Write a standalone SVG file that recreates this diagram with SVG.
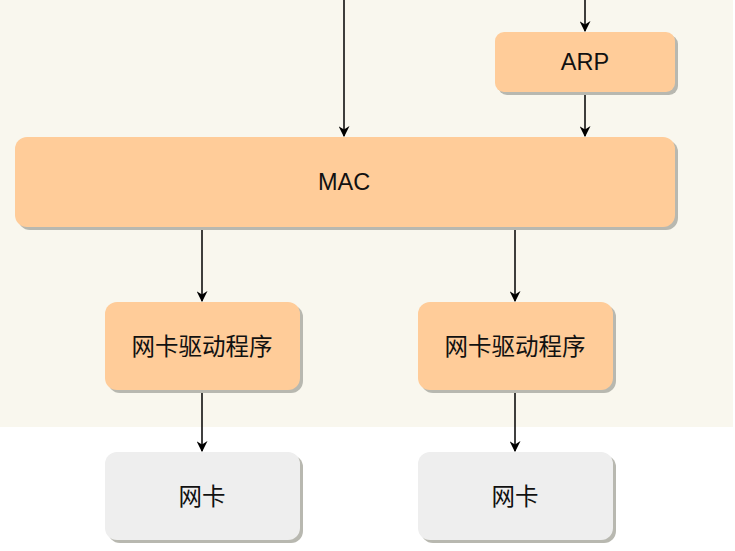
<svg xmlns="http://www.w3.org/2000/svg" width="735" height="551" viewBox="0 0 735 551">
<defs>
<style>
.box{stroke:none}
.o{fill:#ffcc99}
.g{fill:#eeeeee}
.sh{fill:#b8b8b0}
.t{font-family:"Liberation Sans","Noto Sans CJK SC",sans-serif;font-size:23.5px;fill:#111;text-anchor:middle;dominant-baseline:central}
.c{stroke:#000;stroke-width:1.5;fill:none;marker-end:url(#ah)}
</style>
<marker id="ah" viewBox="0 0 10 10" refX="9" refY="5" markerWidth="11" markerHeight="11" markerUnits="userSpaceOnUse" orient="auto">
<path d="M0,0 L10,5 L0,10 L3,5 Z" fill="#000"/>
</marker>
</defs>
<rect x="0" y="0" width="735" height="551" fill="#ffffff"/>
<rect x="0" y="0" width="733" height="427" fill="#f9f7ee"/>
<g id="connectors">
<line class="c" x1="344" y1="0" x2="344" y2="136"/>
<line class="c" x1="585" y1="0" x2="585" y2="31"/>
<line class="c" x1="585" y1="92" x2="585" y2="136"/>
<line class="c" x1="202" y1="227" x2="202" y2="301"/>
<line class="c" x1="515" y1="227" x2="515" y2="301"/>
<line class="c" x1="202" y1="390" x2="202" y2="451"/>
<line class="c" x1="515" y1="390" x2="515" y2="451"/>
</g>
<g id="arp">
<rect class="sh" x="498" y="35" width="180" height="60" rx="9"/>
<rect class="box o" x="495" y="32" width="180" height="60" rx="9"/>
<text class="t" x="585" y="62">ARP</text>
</g>
<g id="mac">
<rect class="sh" x="18" y="140" width="660" height="90" rx="12"/>
<rect class="box o" x="15" y="137" width="660" height="90" rx="12"/>
<text class="t" x="344" y="182">MAC</text>
</g>
<g id="driver1">
<rect class="sh" x="108" y="305" width="195" height="88" rx="12"/>
<rect class="box o" x="105" y="302" width="195" height="88" rx="12"/>
<text class="t" x="202" y="347">网卡驱动程序</text>
</g>
<g id="driver2">
<rect class="sh" x="421" y="305" width="195" height="88" rx="12"/>
<rect class="box o" x="418" y="302" width="195" height="88" rx="12"/>
<text class="t" x="515" y="347">网卡驱动程序</text>
</g>
<g id="nic1">
<rect class="sh" x="108" y="455" width="195" height="88" rx="12"/>
<rect class="box g" x="105" y="452" width="195" height="88" rx="12"/>
<text class="t" x="202" y="497">网卡</text>
</g>
<g id="nic2">
<rect class="sh" x="421" y="455" width="195" height="88" rx="12"/>
<rect class="box g" x="418" y="452" width="195" height="88" rx="12"/>
<text class="t" x="515" y="497">网卡</text>
</g>
</svg>
